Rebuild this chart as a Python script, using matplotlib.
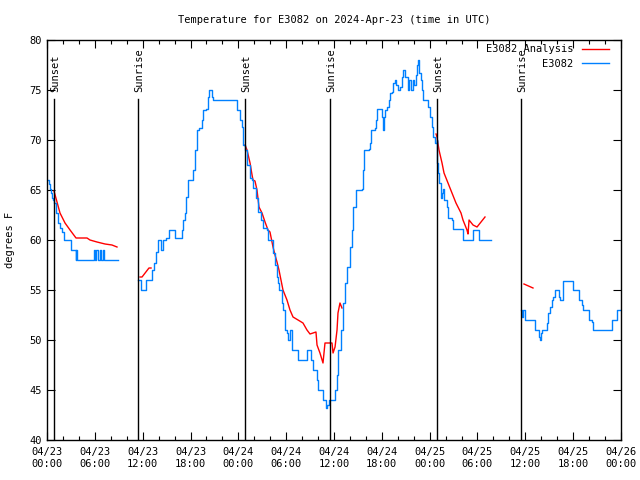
import numpy as np
import matplotlib
matplotlib.use("Agg")
import matplotlib.pyplot as plt
from matplotlib.ticker import MultipleLocator

nan = np.nan

# hours since 2024-04-23 00:00 UTC, temperature in degrees F
obs_hours = [0.1, 0.25, 0.4, 0.5, 0.6, 0.75, 0.9, 1.1, 1.4, 1.6, 1.9, 2.1, 2.9, 3.0, 3.5, 3.6, 3.7, 3.8,
             5.8, 5.9, 6.0, 6.2, 6.4, 6.6, 6.8, 7.0, 7.1, 8.8, 8.85,
             11.41, 11.79, 12.42, 13.17, 13.42, 13.67, 13.92, 14.3, 14.55, 14.93, 15.3, 16.06, 16.93,
             17.06, 17.31, 17.44, 17.69, 18.31, 18.56, 18.82, 19.07, 19.44, 19.57, 19.94, 20.2, 20.32,
             20.7, 20.82, 23.46, 23.83, 24.21, 24.46, 24.59, 24.84, 25.09, 25.47, 25.72, 25.84, 26.22,
             26.47, 26.84, 27.09, 27.59, 27.72, 28.35, 28.6, 28.85, 28.98, 29.1, 29.48, 29.6, 29.85,
             30.1, 30.23, 30.48, 30.73, 31.49, 32.61, 33.12, 33.37, 33.87, 34.0, 34.62, 35.0, 35.12,
             35.37, 36.13, 36.38, 36.5, 36.88, 37.13, 37.38, 37.63, 38.01, 38.26, 38.38, 38.76, 39.51,
             39.64, 39.76, 40.39, 40.52, 40.64, 41.14, 41.27, 41.39, 42.02, 42.15, 42.27, 42.4, 42.65,
             42.9, 43.03, 43.28, 43.4, 43.65, 43.78, 44.03, 44.28, 44.53, 44.66, 44.91, 45.28, 45.41,
             45.66, 45.91, 46.03, 46.29, 46.41, 46.54, 46.66, 46.91, 47.04, 47.16, 47.79, 48.04, 48.29,
             48.42, 48.67, 48.92, 48.98, 49.05, 49.17, 49.42, 49.55, 49.67, 49.8, 50.18, 50.3, 50.8,
             50.93, 51.81, 52.18, 53.44, 54.19, 55.69, 55.74,
             59.46, 59.59, 59.71, 59.96, 61.21, 61.72, 61.84, 61.97, 62.09, 62.72, 62.84, 63.1, 63.35,
             63.47, 63.72, 64.22, 64.35, 64.72, 65.98, 66.73, 67.11, 67.24, 67.99, 68.36, 68.49, 70.87,
             71.5, 72.0]
obs_temps = [66, 65.6, 65.1, 64.7, 64.2, 64, 63.7, 62.7, 61.7, 61.2, 60.8, 60, 60, 59, 59, 58, 59, 58,
             58, 59, 58, 59, 58, 59, 58, 59, 58, 58, nan,
             56, 55, 56, 57, 57.7, 58.8, 60, 59, 60, 60.2, 61, 60.2, 61,
             62, 62.7, 64.3, 66, 67, 69, 71, 71.2, 72, 73, 73.1, 74.3, 75,
             74.3, 74, 74, 73, 72, 71.3, 69.5, 69, 67.5, 66.2, 66, 65.2, 64.2,
             62.8, 62, 61.2, 61, 60, 58.7, 57.5, 56.3, 55.7, 55, 53.7, 53, 51,
             50.7, 50, 51, 49, 48, 49, 48, 47, 46, 45, 44, 43.2, 43.5,
             44, 45, 46.5, 49, 51, 53.7, 55.7, 57.3, 59.3, 61, 63.3, 65, 65.1,
             67, 69, 69.1, 69.7, 71, 71.2, 72, 73.1, 72.3, 71, 72.3, 73, 73.3,
             74, 74.7, 74.8, 75.7, 76, 75.5, 75, 75.3, 76.3, 77, 76.3, 75, 76,
             75, 76, 75.5, 76.5, 77.5, 78, 76.7, 76, 75, 74, 73.3, 72.3, 71.3,
             70.3, 69.7, 70, 67.7, 66.7, 65.7, 64.2, 64.7, 65.1, 64, 63.3, 62.2, 62,
             61.1, 61.1, 60, 61, 60, 60, nan,
             53, 52.3, 53, 52, 51, 50.3, 50, 50.7, 51, 51.7, 52.7, 53.3, 54,
             54.3, 55, 54.3, 54, 55.9, 55, 54, 53.5, 53, 52, 51.8, 51, 52,
             53, 53]

ana_hours = [0.88, 1.63, 2.26, 2.89, 3.64, 5.02, 5.39, 6.27, 7.28, 8.15, 8.78, nan,
             11.67, 11.92, 12.79, 13.05, nan,
             24.84, 25.09, 25.47, 25.72, 25.84, 26.09, 26.34, 26.59, 26.97, 27.35, 27.72, 27.97, 28.35,
             28.6, 28.85, 29.1, 29.6, 30.1, 30.48, 30.86, 31.49, 32.11, 32.61, 32.99, 33.37, 33.74,
             33.87, 34.24, 34.62, 34.87, 35.75, 35.88, 36.13, 36.38, 36.5, 36.75, 37.0, nan,
             48.8, 48.92, 49.17, 49.55, 49.8, 50.3, 50.8, 51.3, 51.93, 52.18, 52.68, 52.81, 52.94,
             53.44, 53.94, 54.44, 54.94, nan,
             59.83, 60.96]
ana_temps = [64.9, 62.7, 61.7, 61, 60.2, 60.2, 60, 59.8, 59.6, 59.5, 59.3, nan,
             56.3, 56.3, 57.2, 57.2, nan,
             69.5, 69, 67.7, 66.5, 66, 65.9, 65, 63.3, 62.7, 61.8, 61, 60.8, 59.3,
             58.5, 57.8, 57, 55, 54, 53, 52.3, 52, 51.7, 51, 50.6, 50.7, 50.8,
             49.5, 48.7, 47.7, 49.7, 49.7, 48.7, 49.3, 51, 52.7, 53.7, 53.2, nan,
             70.6, 70.3, 69, 67.7, 66.7, 65.7, 64.7, 63.7, 62.7, 62, 61, 60.6, 62,
             61.5, 61.3, 61.8, 62.3, nan,
             55.6, 55.2]

sun_hours = [0.88, 11.41, 24.84, 35.54, 48.92, 59.46]
sun_labels = ["Sunset", "Sunrise", "Sunset", "Sunrise", "Sunset", "Sunrise"]

tick_hours = list(range(0, 73, 6))
tick_labels = ["04/23\n00:00", "04/23\n06:00", "04/23\n12:00", "04/23\n18:00",
               "04/24\n00:00", "04/24\n06:00", "04/24\n12:00", "04/24\n18:00",
               "04/25\n00:00", "04/25\n06:00", "04/25\n12:00", "04/25\n18:00",
               "04/26\n00:00"]

plt.rcParams['font.family'] = ['DejaVu Sans Mono', 'DejaVu Sans']
plt.rcParams['font.size'] = 7.5

fig = plt.figure(figsize=(6.4, 4.8), dpi=100)
ax = fig.add_axes([47/640, 1 - 440/480, 574/640, 400/480])

ax.plot(ana_hours, ana_temps, color='#ff0000', lw=1, label='E3082 Analysis')
ax.plot(obs_hours, obs_temps, color='#0080ff', lw=1, drawstyle='steps-post', label='E3082')

for h, lab in zip(sun_hours, sun_labels):
    ax.plot([h, h], [40, 74.1], color='black', lw=1)
    ax.text(h + 0.15, 74.8, lab, rotation=90, ha='center', va='bottom', fontsize=7.5)

ax.set_xlim(0, 72)
ax.set_ylim(40, 80)
ax.set_xticks(tick_hours)
ax.set_xticklabels(tick_labels)
ax.xaxis.set_minor_locator(MultipleLocator(2))
ax.set_yticks(range(40, 81, 5))
ax.tick_params(which='both', direction='in', top=True, right=True, width=0.8)
ax.tick_params(which='major', length=6)
ax.tick_params(which='minor', length=3)
ax.tick_params(axis='x', pad=5)
ax.tick_params(axis='y', pad=4)
for s in ax.spines.values():
    s.set_linewidth(1)

ax.set_ylabel("degrees F", labelpad=10)
ax.set_title("Temperature for E3082 on 2024-Apr-23 (time in UTC)", fontsize=7.5, pad=12)

ax.legend(loc='upper right', bbox_to_anchor=(0.986, 1.0), frameon=False, markerfirst=False,
          handlelength=2.6, borderaxespad=0, labelspacing=0.45, handletextpad=0.8)

fig.savefig("out.png", dpi=100)
